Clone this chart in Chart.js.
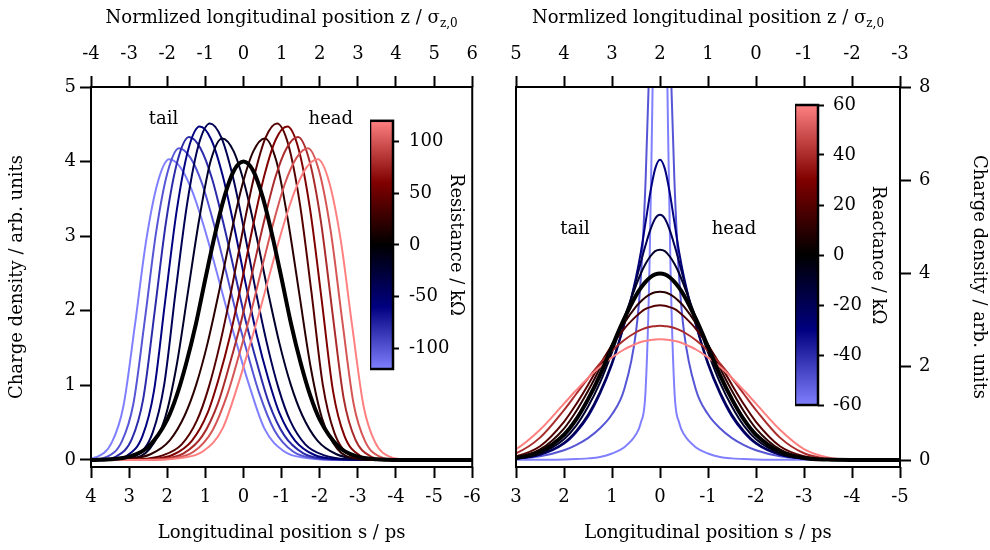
<!DOCTYPE html>
<html>
<head>
<meta charset="utf-8">
<title>Bunch profiles vs. impedance</title>
<script src="https://cdn.jsdelivr.net/npm/chart.js@4.4.1/dist/chart.umd.min.js"></script>
<style>
  html, body { margin: 0; padding: 0; background: #fff; }
  #wrap { position: relative; width: 990px; height: 550px; overflow: hidden; }
  #wrap canvas { position: absolute; }
</style>
</head>
<body>
<div id="wrap">
  <canvas id="leftChart" width="490" height="550" style="left:0;top:0"></canvas>
  <canvas id="rightChart" width="500" height="550" style="left:490px;top:0"></canvas>
  <canvas id="leftBar" width="100" height="290" style="left:370px;top:100px"></canvas>
  <canvas id="rightBar" width="110" height="345" style="left:795px;top:85px"></canvas>
</div>
<script>
// ---- left panel: charge density for a purely resistive impedance, [s (ps), density]
const resistance = [-120, -100, -80, -60, -40, -20, 0, 20, 40, 60, 80, 100, 120];

const rM120 = [[4.35,0],[3.85,0.04],[3.45,0.24],[3.15,0.72],[2.85,1.80],[2.55,2.95],[2.25,3.72],[1.95,4.03],[1.65,3.92],[1.35,3.61],[1.05,3.15],[0.75,2.61],[0.45,2.04],[0.15,1.51],[-0.15,1.00],[-0.55,0.42],[-1.05,0.12],[-1.65,0.025],[-2.55,0],[-6.5,0]];
const rM100 = [[4.5,0],[4.09,0],[3.59,0.04],[3.19,0.25],[2.89,0.75],[2.59,1.87],[2.29,3.06],[1.99,3.86],[1.69,4.18],[1.39,4.05],[1.09,3.71],[0.79,3.19],[0.49,2.59],[0.19,1.97],[-0.11,1.42],[-0.41,0.90],[-0.81,0.40],[-1.31,0.11],[-1.91,0.02],[-2.81,0],[-6.5,0]];
const rM80 = [[4.5,0],[3.83,0],[3.33,0.05],[2.93,0.28],[2.63,0.82],[2.33,1.99],[2.03,3.20],[1.73,4.01],[1.43,4.33],[1.13,4.18],[0.83,3.78],[0.53,3.18],[0.23,2.51],[-0.07,1.84],[-0.37,1.27],[-0.67,0.76],[-1.07,0.33],[-1.57,0.09],[-2.17,0.015],[-3.07,0],[-6.5,0]];
const rM60 = [[4.5,0],[3.55,0],[3.05,0.06],[2.65,0.32],[2.35,0.92],[2.05,2.15],[1.75,3.35],[1.45,4.16],[1.15,4.47],[0.85,4.30],[0.55,3.82],[0.25,3.14],[-0.05,2.38],[-0.35,1.67],[-0.65,1.09],[-0.95,0.62],[-1.35,0.26],[-1.85,0.07],[-2.45,0.012],[-3.35,0],[-6.5,0]];
const rM40 = [[4.5,0],[3.8,0],[3.28,0.01],[2.78,0.07],[2.38,0.37],[2.08,1.01],[1.78,2.26],[1.48,3.43],[1.18,4.22],[0.88,4.51],[0.58,4.32],[0.28,3.80],[-0.02,3.07],[-0.32,2.27],[-0.62,1.55],[-0.92,0.96],[-1.22,0.53],[-1.62,0.21],[-2.12,0.062],[-2.72,0.01],[-3.62,0],[-6.5,0]];
const rM20 = [[4.5,0],[3.56,0],[2.96,0.02],[2.46,0.15],[2.06,0.56],[1.76,1.25],[1.46,2.24],[1.16,3.23],[0.86,4.01],[0.56,4.31],[0.26,4.14],[-0.04,3.67],[-0.34,3.00],[-0.64,2.26],[-0.94,1.57],[-1.24,1.01],[-1.54,0.60],[-1.94,0.26],[-2.44,0.077],[-3.04,0.013],[-3.94,0],[-6.5,0]];
const r0 = [[4.5,0],[4,0.001],[3.5,0.009],[3,0.044],[2.5,0.176],[2,0.541],[1.75,0.865],[1.5,1.30],[1.25,1.82],[1,2.43],[0.75,3.02],[0.5,3.53],[0.25,3.88],[0,4.00],[-0.25,3.88],[-0.5,3.53],[-0.75,3.02],[-1,2.43],[-1.25,1.82],[-1.5,1.30],[-1.75,0.865],[-2,0.541],[-2.5,0.176],[-3,0.044],[-3.5,0.009],[-4,0.001],[-4.5,0],[-6.5,0]];
const rP20 = [[4.5,0],[3.94,0],[3.04,0.013],[2.44,0.077],[1.94,0.26],[1.54,0.60],[1.24,1.01],[0.94,1.57],[0.64,2.26],[0.34,3.00],[0.04,3.67],[-0.26,4.14],[-0.56,4.31],[-0.86,4.01],[-1.16,3.23],[-1.46,2.24],[-1.76,1.25],[-2.06,0.56],[-2.46,0.15],[-2.96,0.02],[-3.56,0],[-6.5,0]];
const rP40 = [[4.5,0],[3.62,0],[2.72,0.01],[2.12,0.062],[1.62,0.21],[1.22,0.53],[0.92,0.96],[0.62,1.55],[0.32,2.27],[0.02,3.07],[-0.28,3.80],[-0.58,4.32],[-0.88,4.51],[-1.18,4.22],[-1.48,3.43],[-1.78,2.26],[-2.08,1.01],[-2.38,0.37],[-2.78,0.07],[-3.28,0.01],[-3.8,0],[-6.5,0]];
const rP60 = [[4.5,0],[3.35,0],[2.45,0.012],[1.85,0.07],[1.35,0.26],[0.95,0.62],[0.65,1.09],[0.35,1.67],[0.05,2.38],[-0.25,3.14],[-0.55,3.82],[-0.85,4.30],[-1.15,4.47],[-1.45,4.16],[-1.75,3.35],[-2.05,2.15],[-2.35,0.92],[-2.65,0.32],[-3.05,0.06],[-3.55,0],[-6.5,0]];
const rP80 = [[4.5,0],[3.07,0],[2.17,0.015],[1.57,0.09],[1.07,0.33],[0.67,0.76],[0.37,1.27],[0.07,1.84],[-0.23,2.51],[-0.53,3.18],[-0.83,3.78],[-1.13,4.18],[-1.43,4.33],[-1.73,4.01],[-2.03,3.20],[-2.33,1.99],[-2.63,0.82],[-2.93,0.28],[-3.33,0.05],[-3.83,0],[-6.5,0]];
const rP100 = [[4.5,0],[2.81,0],[1.91,0.02],[1.31,0.11],[0.81,0.40],[0.41,0.90],[0.11,1.42],[-0.19,1.97],[-0.49,2.59],[-0.79,3.19],[-1.09,3.71],[-1.39,4.05],[-1.69,4.18],[-1.99,3.86],[-2.29,3.06],[-2.59,1.87],[-2.89,0.75],[-3.19,0.25],[-3.59,0.04],[-4.09,0],[-6.5,0]];
const rP120 = [[4.5,0],[2.55,0],[1.65,0.025],[1.05,0.12],[0.55,0.42],[0.15,1.00],[-0.15,1.51],[-0.45,2.04],[-0.75,2.61],[-1.05,3.15],[-1.35,3.61],[-1.65,3.92],[-1.95,4.03],[-2.25,3.72],[-2.55,2.95],[-2.85,1.80],[-3.15,0.72],[-3.45,0.24],[-3.85,0.04],[-4.35,0]];

// ---- right panel: purely reactive impedance, densities on a common s grid (ps)
const reactance = [-60, -50, -30, -20, -10, 0, 10, 20, 40, 60];
const sGrid = [3.5, 3, 2.5, 2, 1.75, 1.5, 1.25, 1, 0.75, 0.5, 0.4, 0.3, 0.2, 0.1, 0, -0.1, -0.2, -0.3, -0.4, -0.5, -0.75, -1, -1.25, -1.5, -1.75, -2, -2.5, -3, -3.5, -4, -5];

const xM60 = [0,0.003,0.006,0.012,0.02,0.035,0.065,0.14,0.27,0.55,0.8,1.5,5.2,14,40,14,5.2,1.5,0.8,0.55,0.27,0.14,0.065,0.035,0.02,0.012,0.006,0.003,0,0,0];
const xM50 = [0.01,0.03,0.08,0.21,0.32,0.47,0.68,0.98,1.5,2.75,3.9,6.0,9.2,13.5,20,13.5,9.2,6.0,3.9,2.75,1.5,0.98,0.68,0.47,0.32,0.21,0.08,0.03,0.01,0.003,0];
const xM30 = [0.005,0.03,0.11,0.35,0.59,0.93,1.42,2.05,2.89,3.92,4.45,5.1,5.75,6.25,6.44,6.25,5.75,5.1,4.45,3.92,2.89,2.05,1.42,0.93,0.59,0.35,0.11,0.03,0.005,0.001,0];
const xM20 = [0.006,0.029,0.116,0.37,0.62,0.97,1.46,2.09,2.90,3.85,4.24,4.61,4.94,5.18,5.26,5.18,4.94,4.61,4.24,3.85,2.90,2.09,1.46,0.97,0.62,0.37,0.116,0.029,0.006,0.001,0];
const xM10 = [0.007,0.035,0.139,0.445,0.73,1.14,1.66,2.31,3.04,3.74,4.00,4.21,4.37,4.48,4.51,4.48,4.37,4.21,4.00,3.74,3.04,2.31,1.66,1.14,0.73,0.445,0.139,0.035,0.007,0.001,0];
const x0 = [0.009,0.044,0.176,0.541,0.865,1.30,1.82,2.43,3.02,3.53,3.69,3.82,3.92,3.98,4.00,3.98,3.92,3.82,3.69,3.53,3.02,2.43,1.82,1.30,0.865,0.541,0.176,0.044,0.009,0.001,0];
const xP10 = [0.012,0.059,0.226,0.675,1.04,1.48,1.97,2.47,2.93,3.29,3.40,3.49,3.56,3.60,3.61,3.60,3.56,3.49,3.40,3.29,2.93,2.47,1.97,1.48,1.04,0.675,0.226,0.059,0.012,0.002,0];
const xP20 = [0.016,0.079,0.295,0.82,1.19,1.61,2.05,2.46,2.81,3.08,3.17,3.24,3.28,3.31,3.32,3.31,3.28,3.24,3.17,3.08,2.81,2.46,2.05,1.61,1.19,0.82,0.295,0.079,0.016,0.002,0];
const xP40 = [0.031,0.145,0.48,1.07,1.41,1.75,2.07,2.34,2.57,2.74,2.79,2.83,2.86,2.87,2.88,2.87,2.86,2.83,2.79,2.74,2.57,2.34,2.07,1.75,1.41,1.07,0.48,0.145,0.031,0.005,0];
const xP60 = [0.055,0.235,0.65,1.21,1.49,1.76,2.00,2.20,2.37,2.49,2.53,2.555,2.574,2.586,2.59,2.586,2.574,2.555,2.53,2.49,2.37,2.20,2.00,1.76,1.49,1.21,0.65,0.235,0.055,0.009,0];

// ---- tick labels
const sTicksL = [4, 3, 2, 1, 0, -1, -2, -3, -4, -5, -6];
const zTicksL = [-4, -3, -2, -1, 0, 1, 2, 3, 4, 5, 6];
const rhoTicksL = [0, 1, 2, 3, 4, 5];
const sTicksR = [3, 2, 1, 0, -1, -2, -3, -4, -5];
const zTicksR = [5, 4, 3, 2, 1, 0, -1, -2, -3];
const rhoTicksR = [0, 2, 4, 6, 8];
const resTicks = [-100, -50, 0, 50, 100];
const reaTicks = [-60, -40, -20, 0, 20, 40, 60];

const leftProfiles = [rM120, rM100, rM80, rM60, rM40, rM20, r0, rP20, rP40, rP60, rP80, rP100, rP120];
const rightProfiles = [xM60, xM50, xM30, xM20, xM10, x0, xP10, xP20, xP40, xP60];

Chart.defaults.font.family = "'DejaVu Serif', serif";
Chart.defaults.font.size = 18;
Chart.defaults.color = '#000';

// blue - navy - black - dark red - pink
const cmapStops = [[0, [128,128,255]], [0.25, [0,0,128]], [0.5, [0,0,0]], [0.75, [128,0,0]], [1, [255,128,128]]];
function cmap(t) {
  for (let i = 1; i < cmapStops.length; i++) {
    const [t1, c1] = cmapStops[i];
    if (t <= t1) {
      const [t0, c0] = cmapStops[i - 1];
      const f = (t - t0) / (t1 - t0);
      return 'rgb(' + c0.map((c, k) => Math.round(c + (c1[k] - c) * f)).join(',') + ')';
    }
  }
  return 'rgb(' + cmapStops[cmapStops.length - 1][1].join(',') + ')';
}

function fixedTicks(values) {
  return scale => { scale.ticks = values.map(v => ({ value: v })); };
}
function outTicks(len) {
  return { drawOnChartArea: false, drawTicks: true, tickLength: len, tickWidth: 2, tickColor: '#000' };
}

const frame = {
  id: 'frame',
  afterDraw(chart) {
    const { ctx, chartArea: a } = chart;
    ctx.save();
    ctx.lineWidth = 2;
    ctx.strokeStyle = '#000';
    ctx.strokeRect(a.left, a.top, a.right - a.left, a.bottom - a.top);
    ctx.restore();
  }
};

// top axis title, with the σ subscript
function topTitle(ctx, scale) {
  const main = 'Normlized longitudinal position z / σ';
  const sub = 'z,0';
  ctx.save();
  ctx.fillStyle = '#000';
  ctx.font = "18px 'DejaVu Serif'";
  const w1 = ctx.measureText(main).width;
  ctx.font = "12px 'DejaVu Serif'";
  const w2 = ctx.measureText(sub).width;
  const x = (scale.left + scale.right) / 2 - (w1 + w2) / 2;
  ctx.font = "18px 'DejaVu Serif'";
  ctx.fillText(main, x, scale.top + 23);
  ctx.font = "12px 'DejaVu Serif'";
  ctx.fillText(sub, x + w1, scale.top + 27);
  ctx.restore();
}

function notes(chart, list) {
  const { ctx, scales: { x, y } } = chart;
  ctx.save();
  ctx.fillStyle = '#000';
  ctx.font = "18px 'DejaVu Serif'";
  ctx.textAlign = 'center';
  ctx.textBaseline = 'middle';
  list.forEach(([s, v, t]) => ctx.fillText(t, x.getPixelForValue(s), y.getPixelForValue(v)));
  ctx.restore();
}

function panel(id, datasets, o) {
  return new Chart(document.getElementById(id), {
    type: 'line',
    data: { datasets },
    options: {
      responsive: false, animation: false, events: [], devicePixelRatio: 1,
      layout: { padding: o.padding },
      plugins: { legend: { display: false }, tooltip: { enabled: false } },
      elements: {
        point: { radius: 0 },
        line: { cubicInterpolationMode: 'monotone', borderJoinStyle: 'round', borderCapStyle: 'round' }
      },
      scales: {
        x: {
          type: 'linear', position: 'bottom', min: o.sMin, max: o.sMax, reverse: true,
          afterBuildTicks: fixedTicks(o.sTicks), afterFit: s => { s.height = 83; },
          grid: outTicks(11), border: { display: false },
          ticks: { padding: 9, maxRotation: 0, autoSkip: false },
          title: { display: true, text: 'Longitudinal position s / ps', padding: { top: 0, bottom: 6 } }
        },
        x2: {
          type: 'linear', position: 'top', min: o.zMin, max: o.zMax, reverse: o.zReverse,
          afterBuildTicks: fixedTicks(o.zTicks), afterFit: s => { s.height = 87; },
          grid: outTicks(11), border: { display: false },
          ticks: { padding: 11, maxRotation: 0, autoSkip: false }
        },
        y: {
          type: 'linear', position: o.yPos, min: o.yMin, max: o.yMax,
          afterBuildTicks: fixedTicks(o.yTicks), afterFit: s => { s.width = o.yWidth; },
          grid: outTicks(11), border: { display: false },
          ticks: { padding: o.yPad },
          title: { display: true, text: 'Charge density / arb. units', padding: { top: o.yTitlePad, bottom: 0 } }
        }
      }
    },
    plugins: [frame, { id: 'texts', afterDraw: c => { topTitle(c.ctx, c.scales.x2); notes(c, o.notes); } }]
  });
}

const gradientBar = {
  id: 'gradientBar',
  beforeDatasetsDraw(chart) {
    const { ctx, chartArea: a, scales: { y } } = chart;
    const g = ctx.createLinearGradient(0, y.getPixelForValue(y.min), 0, y.getPixelForValue(y.max));
    cmapStops.forEach(([t, c]) => g.addColorStop(t, 'rgb(' + c.join(',') + ')'));
    ctx.save();
    ctx.fillStyle = g;
    ctx.fillRect(a.left, a.top, a.right - a.left, a.bottom - a.top);
    ctx.lineWidth = 2.5;
    ctx.strokeStyle = '#000';
    ctx.strokeRect(a.left, a.top, a.right - a.left, a.bottom - a.top);
    ctx.restore();
  }
};

function colorbar(id, o) {
  return new Chart(document.getElementById(id), {
    type: 'line',
    data: { datasets: [] },
    options: {
      responsive: false, animation: false, events: [], devicePixelRatio: 1,
      layout: { padding: o.padding },
      plugins: { legend: { display: false }, tooltip: { enabled: false } },
      scales: {
        x: { type: 'linear', display: false, min: 0, max: 1 },
        y: {
          type: 'linear', position: 'right', min: o.min, max: o.max,
          afterBuildTicks: fixedTicks(o.ticks), afterFit: s => { s.width = o.width; },
          grid: outTicks(6), border: { display: false },
          ticks: { padding: o.tickPad },
          title: { display: true, text: o.title, padding: { top: o.titlePad, bottom: 0 } }
        }
      }
    },
    plugins: [gradientBar]
  });
}

const leftSets = resistance.map((r, i) => ({
  data: leftProfiles[i],
  borderColor: cmap((r + 120) / 240),
  borderWidth: r === 0 ? 4 : 2,
  order: r === 0 ? 0 : leftProfiles.length - i
}));

const rightSets = reactance.map((x, i) => ({
  data: sGrid.map((s, k) => [s, rightProfiles[i][k]]),
  borderColor: cmap((x + 60) / 120),
  borderWidth: x === 0 ? 4 : 2,
  order: x === 0 ? 0 : rightProfiles.length - i
}));

panel('leftChart', leftSets, {
  padding: { left: 0, right: 14, top: 0, bottom: 0 },
  sMin: -6, sMax: 4, sTicks: sTicksL,
  zMin: -4, zMax: 6, zReverse: false, zTicks: zTicksL,
  yPos: 'left', yMin: -0.094, yMax: 5, yTicks: rhoTicksL, yWidth: 91, yPad: 4, yTitlePad: 7,
  notes: [[2.1, 4.56, 'tail'], [-2.29, 4.56, 'head']]
});

panel('rightChart', rightSets, {
  padding: { left: 26, right: 0, top: 0, bottom: 0 },
  sMin: -5, sMax: 3, sTicks: sTicksR,
  zMin: -3, zMax: 5, zReverse: true, zTicks: zTicksR,
  yPos: 'right', yMin: -0.15, yMax: 8, yTicks: rhoTicksR, yWidth: 90, yPad: 8, yTitlePad: 1,
  notes: [[1.77, 4.94, 'tail'], [-1.54, 4.94, 'head']]
});

colorbar('leftBar', {
  padding: { left: 0, right: 0, top: 17, bottom: 21 },
  min: -120, max: 120, ticks: resTicks, width: 77, tickPad: 10,
  title: 'Resistance / kΩ', titlePad: 4
});

colorbar('rightBar', {
  padding: { left: 0, right: 0, top: 20, bottom: 25 },
  min: -60, max: 60, ticks: reaTicks, width: 87, tickPad: 9,
  title: 'Reactance / kΩ', titlePad: 17
});
</script>
</body>
</html>
